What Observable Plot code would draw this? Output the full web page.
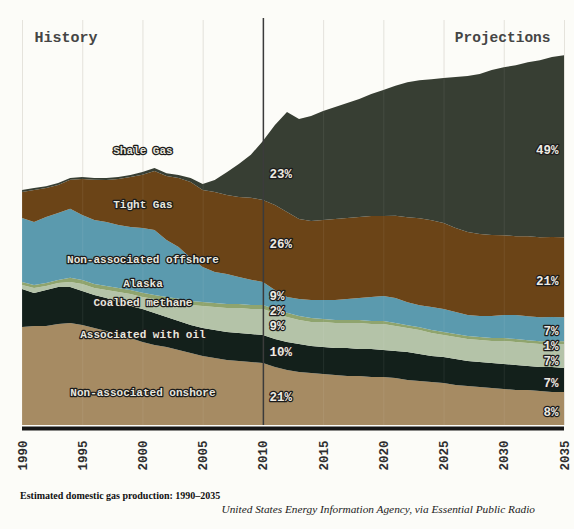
<!DOCTYPE html>
<html><head><meta charset="utf-8">
<script src="https://cdn.jsdelivr.net/npm/d3@7"></script>
<script src="https://cdn.jsdelivr.net/npm/@observablehq/plot@0.6"></script>
<style>
body{margin:0;background:#fcfcf8;width:574px;height:529px;overflow:hidden;position:relative;}
#chart{position:absolute;left:0;top:0;}
#title{position:absolute;left:20px;top:490px;font:bold 10px "Liberation Serif",serif;color:#111;white-space:nowrap;}
#source{position:absolute;right:39px;top:503px;font:italic 11.3px "Liberation Serif",serif;color:#222;white-space:nowrap;}
</style></head><body>
<div id="chart"></div>
<div id="title">Estimated domestic gas production: 1990–2035</div>
<div id="source">United States Energy Information Agency, via Essential Public Radio</div>
<script>
// Years (history 1990–2010, projections 2011–2035)
const years = [1990,1991,1992,1993,1994,1995,1996,1997,1998,1999,2000,2001,2002,2003,2004,2005,2006,2007,2008,2009,2010,
  2011,2012,2013,2014,2015,2016,2017,2018,2019,2020,2021,2022,2023,2024,2025,2026,2027,2028,2029,2030,2031,2032,2033,2034,2035];

// Production by source, trillion cubic feet
const onshore  = [7.00,7.07,7.07,7.21,7.29,7.14,6.93,6.71,6.50,6.21,5.93,5.71,5.57,5.36,5.14,4.93,4.79,4.64,4.57,4.50,4.43,
  4.14,3.93,3.79,3.71,3.64,3.57,3.50,3.50,3.43,3.43,3.36,3.21,3.14,3.07,3.00,2.86,2.79,2.71,2.64,2.57,2.50,2.50,2.43,2.36,2.36];
const associated = [2.71,2.36,2.57,2.64,2.57,2.43,2.36,2.36,2.29,2.29,2.36,2.29,2.14,2.07,2.00,2.00,2.00,2.00,2.00,2.00,2.00,
  2.00,2.00,2.00,1.93,1.93,1.93,2.00,1.93,2.00,1.93,1.93,2.00,1.93,1.86,1.86,1.86,1.79,1.79,1.79,1.79,1.79,1.71,1.71,1.79,1.71];
const coalbed  = [0.29,0.36,0.29,0.29,0.36,0.50,0.50,0.57,0.71,0.86,0.86,1.00,1.14,1.29,1.43,1.57,1.64,1.71,1.79,1.79,1.86,
  1.86,1.79,1.71,1.71,1.79,1.79,1.79,1.86,1.79,1.86,1.79,1.71,1.71,1.64,1.57,1.57,1.57,1.57,1.57,1.64,1.64,1.64,1.64,1.64,1.71];
const alaska   = [0.21,0.21,0.21,0.21,0.29,0.29,0.29,0.29,0.29,0.29,0.29,0.29,0.29,0.29,0.29,0.29,0.29,0.29,0.29,0.29,0.29,
  0.29,0.29,0.29,0.29,0.21,0.21,0.21,0.21,0.21,0.21,0.21,0.21,0.21,0.21,0.21,0.21,0.21,0.21,0.21,0.21,0.21,0.21,0.21,0.21,0.21];
const offshore = [4.57,4.50,4.71,4.79,4.93,4.64,4.57,4.57,4.50,4.50,4.64,4.64,4.07,3.71,3.07,2.50,2.21,2.14,1.93,1.79,1.64,
  1.36,1.14,1.21,1.29,1.36,1.43,1.50,1.57,1.71,1.79,1.79,1.64,1.57,1.64,1.64,1.57,1.50,1.50,1.57,1.64,1.71,1.71,1.71,1.71,1.71];
const tight    = [1.86,2.29,2.07,2.00,2.07,2.57,2.86,3.00,3.29,3.57,3.79,4.21,4.57,4.93,5.43,5.50,5.71,5.64,5.71,5.86,5.86,
  6.07,6.07,5.71,5.64,5.71,5.79,5.79,5.79,5.79,5.71,5.86,6.07,6.21,6.21,6.14,6.00,5.93,5.86,5.79,5.71,5.64,5.71,5.71,5.71,5.71];
const shale    = [0.14,0.14,0.14,0.14,0.14,0.14,0.14,0.14,0.14,0.14,0.21,0.21,0.21,0.21,0.29,0.43,0.86,1.64,2.36,3.07,4.21,
  5.71,7.14,7.14,7.50,7.79,8.00,8.21,8.43,8.71,9.00,9.29,9.64,9.86,10.07,10.36,10.79,11.14,11.43,11.79,12.00,12.21,12.43,12.64,12.86,13.00];

// Series names, bottom to top
const seriesNames = ["Non-associated onshore","Associated with oil","Coalbed methane","Alaska","Non-associated offshore","Tight Gas","Shale Gas"];
const seriesColors = ["#a68b63","#13201b","#b4c3a8","#8fa46e","#5b9aae","#6b4417","#373e33"];
const seriesValues = [onshore, associated, coalbed, alaska, offshore, tight, shale];

// Share labels shown at 2010 and 2035 (bottom to top)
const pct2010 = ["21%","10%","9%","2%","9%","26%","23%"];
const pct2035 = ["8%","7%","7%","1%","7%","21%","49%"];

// Axis ticks
const tickYears = [1990,1995,2000,2005,2010,2015,2020,2025,2030,2035];

// Layer name labels (year, value position)
const layerLabels = [
  {text:"Shale Gas", year:2000, value:19.64},
  {text:"Tight Gas", year:2000, value:15.79},
  {text:"Non-associated offshore", year:2000, value:11.86},
  {text:"Alaska", year:2000, value:10.14},
  {text:"Coalbed methane", year:2000, value:8.79},
  {text:"Associated with oil", year:2000, value:6.5},
  {text:"Non-associated onshore", year:2000, value:2.36}
];

const tidy = [];
seriesNames.forEach((name, s) => {
  years.forEach((yr, i) => tidy.push({series: name, year: yr, value: seriesValues[s][i]}));
});

const yMax = 405 / 14;           // plot height 405px
const pxPerUnit = 14;

// Label at each layer's middle, pushed apart so they do not collide
function midLabels(year, labels, minGapPx) {
  const i = years.indexOf(year);
  let cum = 0;
  const out = labels.map((t, s) => {
    const v = seriesValues[s][i];
    const mid = cum + v / 2;
    cum += v;
    return {text: t, year, value: mid};
  });
  const gap = minGapPx / pxPerUnit;
  for (let iter = 0; iter < 50; iter++) {
    let moved = false;
    for (let k = 1; k < out.length; k++) {
      const d = out[k].value - out[k - 1].value;
      if (d < gap) {
        const shift = (gap - d) / 2;
        out[k].value += shift; out[k - 1].value -= shift; moved = true;
      }
    }
    if (!moved) break;
  }
  return out;
}

const mono = "'Liberation Mono', 'DejaVu Sans Mono', monospace";

const chart = Plot.plot({
  width: 574, height: 480,
  marginLeft: 22, marginRight: 10, marginTop: 20, marginBottom: 55,
  style: {background: "transparent", overflow: "visible"},
  x: {domain: [1990, 2035], axis: null, label: null},
  y: {domain: [0, yMax], axis: null},
  color: {domain: seriesNames, range: seriesColors},
  marks: [
    Plot.ruleX(tickYears, {y1: 0, y2: yMax, stroke: "#e3e1da", strokeWidth: 1}),
    Plot.areaY(tidy, {x: "year", y: "value", fill: "series", order: seriesNames, curve: "linear"}),
    Plot.ruleX(tickYears, {y1: 0, y2: yMax, stroke: "#ffffff", strokeOpacity: 0.07, strokeWidth: 1}),
    Plot.ruleX([2010], {y1: 0, y2: yMax + 0.15, stroke: "#3b3b3b", strokeWidth: 1.5}),
    Plot.ruleY([0], {stroke: "#161616", strokeWidth: 4, dy: 3}),
    Plot.axisX({ticks: tickYears, tickFormat: d => String(d), tickRotate: -90, tickSize: 0, tickPadding: 15,
      label: null, fontSize: 12.5, fontFamily: mono, fontWeight: "bold", fill: "#2e2e2e"}),
    Plot.text(layerLabels, {x: "year", y: "value", text: "text", fontFamily: mono, fontWeight: "bold", fontSize: 11,
      fill: "#e8e6de", stroke: "#1c1c1c", strokeWidth: 2.5, textAnchor: "middle"}),
    Plot.text(midLabels(2010, pct2010, 15), {x: "year", y: "value", text: "text", dx: 6, dy: 3, textAnchor: "start",
      fontFamily: mono, fontWeight: "bold", fontSize: 12.5, fill: "#eeeae2", stroke: "#1c1c1c", strokeWidth: 2.5}),
    Plot.text(midLabels(2035, pct2035, 15), {x: "year", y: "value", text: "text", dx: -6, dy: 3, textAnchor: "end",
      fontFamily: mono, fontWeight: "bold", fontSize: 12.5, fill: "#eeeae2", stroke: "#1c1c1c", strokeWidth: 2.5}),
    Plot.text(["History"], {x: 1990, y: yMax, text: d => d, dx: 12, dy: 17, textAnchor: "start",
      fontFamily: mono, fontWeight: "bold", fontSize: 15, fill: "#454545"}),
    Plot.text(["Projections"], {x: 2035, y: yMax, text: d => d, dx: -14, dy: 17, textAnchor: "end",
      fontFamily: mono, fontWeight: "bold", fontSize: 14.5, fill: "#454545"})
  ]
});
document.getElementById("chart").appendChild(chart);
</script>
</body></html>
